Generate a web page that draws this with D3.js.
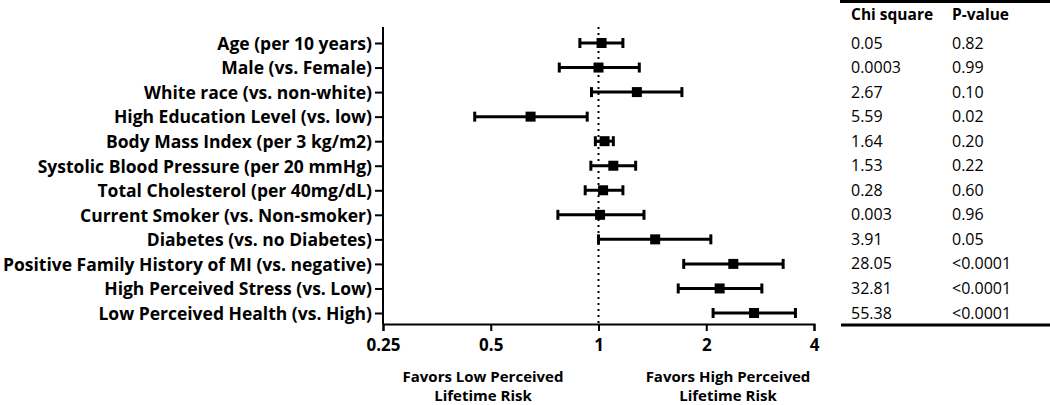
<!DOCTYPE html>
<meta charset="utf-8">
<script src="https://d3js.org/d3.v7.min.js"></script>
<style>
  body { margin: 0; background: #fff; }
  svg text { font-family: "Open Sans", sans-serif; fill: #000; }
  .axis path, .axis line { stroke: #000; stroke-width: 2; }
  .axis text { font-size: 17px; font-weight: bold; }
</style>
<div id="vis"></div>
<script>
  var factors = ["Age (per 10 years)", "Male (vs. Female)", "White race (vs. non-white)",
    "High Education Level (vs. low)", "Body Mass Index (per 3 kg/m2)",
    "Systolic Blood Pressure (per 20 mmHg)", "Total Cholesterol (per 40mg/dL)",
    "Current Smoker (vs. Non-smoker)", "Diabetes (vs. no Diabetes)",
    "Positive Family History of MI (vs. negative)", "High Perceived Stress (vs. Low)",
    "Low Perceived Health (vs. High)"]
  var oddsRatio = [1.02, 1.00, 1.28, 0.646, 1.04, 1.10, 1.03, 1.01, 1.44, 2.38, 2.18, 2.72]
  var lowerCI   = [0.887, 0.777, 0.956, 0.451, 0.98, 0.952, 0.918, 0.77, 1.0, 1.73, 1.67, 2.09]
  var upperCI   = [1.17, 1.30, 1.71, 0.93, 1.10, 1.27, 1.17, 1.34, 2.06, 3.28, 2.86, 3.55]
  var chiSquare = ["0.05", "0.0003", "2.67", "5.59", "1.64", "1.53", "0.28", "0.003", "3.91", "28.05", "32.81", "55.38"]
  var pValue    = ["0.82", "0.99", "0.10", "0.02", "0.20", "0.22", "0.60", "0.96", "0.05", "<0.0001", "<0.0001", "<0.0001"]
  var xTicks = [0.25, 0.5, 1, 2, 4]

  var width = 1050, height = 405
  var svg = d3.select("#vis").append("svg")
    .attr("width", width).attr("height", height)

  var x = d3.scaleLog().base(2).domain([0.25, 4]).range([383, 814])
  var y = d3.scalePoint().domain(factors).range([43, 313])
  var yTop = 27, yBottom = 324

  // x axis
  svg.append("g")
    .attr("class", "axis")
    .attr("transform", "translate(0," + yBottom + ")")
    .call(d3.axisBottom(x).tickValues(xTicks).tickFormat(d3.format("")).tickSize(7).tickSizeOuter(7).tickPadding(8))

  // y axis, line stretched past the first and last rows
  var yAxis = svg.append("g")
    .attr("class", "axis")
    .attr("transform", "translate(383,0)")
    .call(d3.axisLeft(y).tickSize(8).tickPadding(3))
  yAxis.select(".domain").attr("d", "M0," + yTop + "V" + yBottom)
  yAxis.selectAll("text").style("font-size", "17.5px").attr("dy", "0.36em")

  // reference line at 1
  svg.append("line")
    .attr("x1", x(1)).attr("x2", x(1))
    .attr("y1", yTop).attr("y2", yBottom)
    .attr("stroke", "#000").attr("stroke-width", 2)
    .attr("stroke-dasharray", "2,4")

  var rows = factors.map(function (f, i) {
    return {name: f, or: oddsRatio[i], lo: lowerCI[i], hi: upperCI[i]}
  })

  var g = svg.append("g")
  g.selectAll(".ci").data(rows).enter().append("line")
    .attr("x1", function (d) { return x(d.lo) })
    .attr("x2", function (d) { return x(d.hi) })
    .attr("y1", function (d) { return y(d.name) })
    .attr("y2", function (d) { return y(d.name) })
    .attr("stroke", "#000").attr("stroke-width", 3)

  ;["lo", "hi"].forEach(function (k) {
    g.selectAll(".cap-" + k).data(rows).enter().append("line")
      .attr("x1", function (d) { return x(d[k]) })
      .attr("x2", function (d) { return x(d[k]) })
      .attr("y1", function (d) { return y(d.name) - 5 })
      .attr("y2", function (d) { return y(d.name) + 5 })
      .attr("stroke", "#000").attr("stroke-width", 3)
  })

  g.selectAll(".pt").data(rows).enter().append("rect")
    .attr("x", function (d) { return x(d.or) - 5 })
    .attr("y", function (d) { return y(d.name) - 5 })
    .attr("width", 10).attr("height", 10)
    .attr("fill", "#000")

  // footer labels
  var foot = [
    {cx: 483, lines: ["Favors Low Perceived", "Lifetime Risk"]},
    {cx: 728, lines: ["Favors High Perceived", "Lifetime Risk"]}
  ]
  foot.forEach(function (f) {
    f.lines.forEach(function (t, i) {
      svg.append("text")
        .attr("x", f.cx).attr("y", 382 + i * 19)
        .attr("text-anchor", "middle")
        .style("font-size", "15px").style("font-weight", "bold")
        .text(t)
    })
  })

  // stats table
  svg.append("line").attr("x1", 840).attr("x2", 1050).attr("y1", 1.5).attr("y2", 1.5)
    .attr("stroke", "#000").attr("stroke-width", 3)
  svg.append("line").attr("x1", 841).attr("x2", 1050).attr("y1", 325).attr("y2", 325)
    .attr("stroke", "#000").attr("stroke-width", 3)
  svg.append("text").attr("x", 851).attr("y", 20)
    .style("font-size", "15.5px").style("font-weight", "bold").text("Chi square")
  svg.append("text").attr("x", 952).attr("y", 20)
    .style("font-size", "15.5px").style("font-weight", "bold").text("P-value")

  factors.forEach(function (f, i) {
    svg.append("text").attr("x", 851).attr("y", y(f) + 5.5)
      .style("font-size", "16px").text(chiSquare[i])
    svg.append("text").attr("x", 952).attr("y", y(f) + 5.5)
      .style("font-size", "16px").text(pValue[i])
  })
</script>
